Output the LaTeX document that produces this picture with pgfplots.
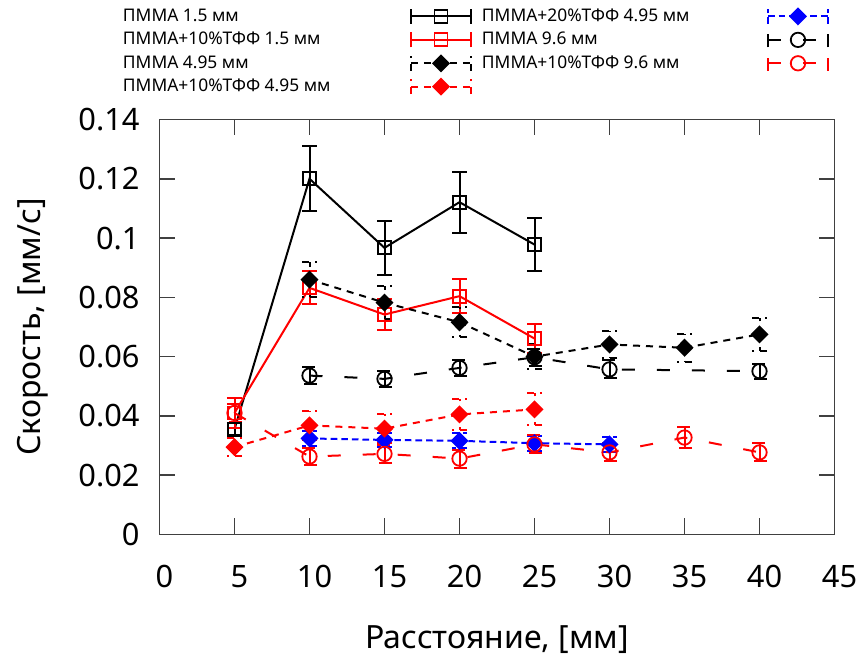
\documentclass[border=0pt]{standalone}
\usepackage{fontspec}
\setmainfont{Noto Sans}
\usepackage{pgfplots}
\pgfplotsset{compat=1.18}
\definecolor{gred}{RGB}{255,0,0}
\definecolor{gblue}{RGB}{0,0,255}
\tikzset{
  shortdash/.style={dash pattern=on 3.5pt off 3pt},
  bluedash/.style={dash pattern=on 3.3pt off 2pt},
  longdash/.style={dash pattern=on 6.5pt off 11pt},
}
\pgfplotsset{
  errleg/.style={legend image code/.code={
    \draw[##1] (0pt,0pt) -- (30pt,0pt);
    \draw[##1] (0pt,-3.75pt) -- (0pt,3.75pt) (30pt,-3.75pt) -- (30pt,3.75pt);
    \draw[##1,only marks] plot coordinates {(15pt,0pt)};
  }},
  ebar/.style={error bars/.cd, y dir=both, y explicit,
    error bar style={line width=1pt, #1},
    error mark options={rotate=90, mark size=3.75pt, line width=1pt, #1}},
  ebar/.default={solid},
}
\newcommand\lgA[1]{\makebox[143.5pt][l]{#1}}
\newcommand\lgB[1]{\makebox[142.5pt][l]{#1}}
\begin{document}
\begin{tikzpicture}
\begin{axis}[
  at={(0,0)}, anchor=south west,
  width=337.5pt, height=207.5pt, scale only axis,
  xmin=0, xmax=45, ymin=0, ymax=0.14,
  xtick={0,5,10,15,20,25,30,35,40,45},
  xticklabels={0,5,10,15,20,25,30,35,40,45},
  ytick={0,0.02,0.04,0.06,0.08,0.1,0.12,0.14},
  yticklabels={0,0.02,0.04,0.06,0.08,0.1,0.12,0.14},
  scaled y ticks=false,
  tick align=inside, major tick length=8pt,
  axis line style={black!75, line width=0.8pt},
  every tick/.style={black!75, line width=0.8pt},
  xticklabel style={font=\fontsize{15.4}{18}\selectfont, inner sep=0pt, anchor=north, yshift=-15.2pt, xshift=2.5pt},
  yticklabel style={font=\fontsize{15.4}{18}\selectfont, inner sep=0pt, anchor=east, xshift=-9.75pt},
  xlabel={Расстояние, [мм]},
  ylabel={Скорость, [мм/с]},
  xlabel style={font=\fontsize{16}{19}\selectfont, at={(axis description cs:0.5,-0.2757)}, anchor=base, inner sep=0pt},
  ylabel style={font=\fontsize{16}{19}\selectfont, at={(axis description cs:-0.1756,0.5)}, anchor=base, inner sep=0pt},
  legend columns=2, legend plot pos=right, legend cell align=left,
  legend style={draw=none, fill=none, at={(axis description cs:-0.0541,1.2687)}, anchor=north west,
    font=\fontsize{8.7}{10}\selectfont, inner sep=0pt, outer sep=0pt, row sep=3.2pt,
    nodes={inner sep=0pt}, /tikz/every even column/.append style={column sep=5pt}},
]
% ПММА 1.5 мм
\addplot[black, line width=1pt, mark=square, mark size=3.25pt, mark options={solid, line width=0.9pt}, errleg, ebar]
  table[x=x, y=y, y error=e] {
x y e
5 0.0355 0.002
10 0.1200 0.011
15 0.0967 0.009
20 0.1121 0.0103
25 0.0978 0.009
};
\addlegendentry{\lgA{ПММА 1.5 мм}}
% ПММА+20%ТФФ 4.95 мм
\addplot[gblue, line width=1pt, bluedash, mark=diamond*, mark size=3.8pt, mark options={solid, xscale=1.33}, errleg, ebar={bluedash}]
  table[x=x, y=y, y error=e] {
x y e
10 0.0324 0.0025
15 0.0319 0.0025
20 0.0316 0.0025
25 0.0308 0.0025
30 0.0304 0.0025
};
\addlegendentry{\lgB{ПММА+20\%ТФФ 4.95 мм}}
% ПММА+10%ТФФ 1.5 мм
\addplot[gred, line width=1pt, mark=square, mark size=3.25pt, mark options={solid, line width=0.9pt}, errleg, ebar]
  table[x=x, y=y, y error=e] {
x y e
5 0.0410 0.005
10 0.0832 0.0056
15 0.0742 0.0052
20 0.0804 0.0057
25 0.0661 0.0049
};
\addlegendentry{\lgA{ПММА+10\%ТФФ 1.5 мм}}
% ПММА 9.6 мм
\addplot[black, line width=1pt, longdash, mark=o, mark size=3.6pt, mark options={solid, line width=0.9pt}, errleg, ebar={longdash}]
  table[x=x, y=y, y error=e] {
x y e
10 0.0536 0.0028
15 0.0525 0.0028
20 0.0562 0.0028
25 0.0598 0.0028
30 0.0557 0.003
40 0.0551 0.0025
};
\addlegendentry{\lgB{ПММА 9.6 мм}}
% ПММА 4.95 мм
\addplot[black, line width=1pt, shortdash, mark=diamond*, mark size=3.8pt, mark options={solid, xscale=1.33}, errleg, ebar={shortdash}]
  table[x=x, y=y, y error=e] {
x y e
10 0.0860 0.006
15 0.0782 0.0055
20 0.0716 0.005
25 0.0600 0.0042
30 0.0641 0.0045
35 0.0630 0.0047
40 0.0675 0.0055
};
\addlegendentry{\lgA{ПММА 4.95 мм}}
% ПММА+10%ТФФ 9.6 мм
\addplot[gred, line width=1pt, longdash, mark=o, mark size=3.6pt, mark options={solid, line width=0.9pt}, errleg, ebar={longdash}]
  table[x=x, y=y, y error=e] {
x y e
5 0.0410 0.003
10 0.0263 0.003
15 0.0272 0.003
20 0.0256 0.003
25 0.0304 0.003
30 0.0277 0.003
35 0.0327 0.0034
40 0.0277 0.003
};
\addlegendentry{\lgB{ПММА+10\%ТФФ 9.6 мм}}
% ПММА+10%ТФФ 4.95 мм
\addplot[gred, line width=1pt, shortdash, mark=diamond*, mark size=3.8pt, mark options={solid, xscale=1.33}, errleg, ebar={shortdash}]
  table[x=x, y=y, y error=e] {
x y e
5 0.0295 0.003
10 0.0368 0.005
15 0.0357 0.005
20 0.0405 0.0053
25 0.0422 0.0054
};
\addlegendentry{\lgA{ПММА+10\%ТФФ 4.95 мм}}
\end{axis}
\pgfresetboundingbox
\useasboundingbox (-79.75pt,-63.7pt) rectangle (350.25pt,267.25pt);
\end{tikzpicture}
\end{document}
